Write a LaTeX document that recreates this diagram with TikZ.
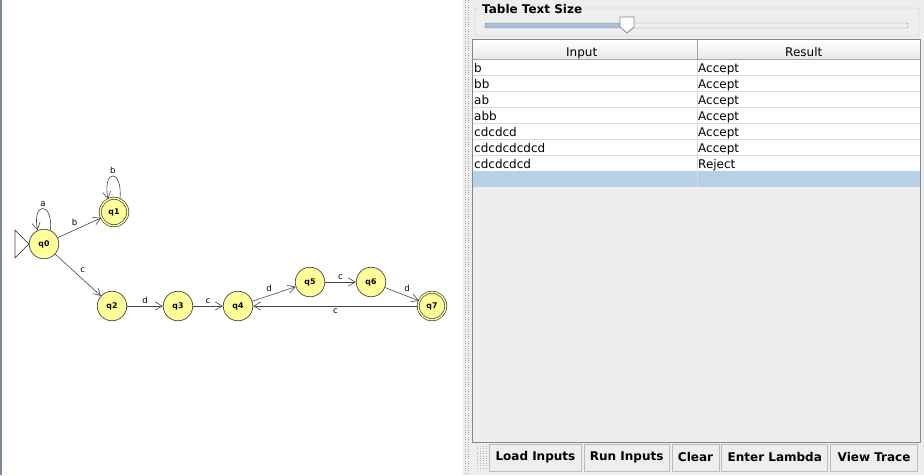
\documentclass[tikz,border=0pt]{standalone}
\usepackage{fontspec}
\setmainfont{DejaVu Sans}
\usepackage{xcolor}
\usepackage{tikz}
\usetikzlibrary{arrows.meta, positioning}
\definecolor{stateyellow}{HTML}{FFFF99}
\definecolor{edgegray}{HTML}{44464E}
\definecolor{panelgray}{HTML}{EEEEEE}
\definecolor{framegray}{HTML}{B8BCC4}
\definecolor{gridgray}{HTML}{D8DBE0}
\definecolor{selectblue}{HTML}{B8CFE5}
\definecolor{tableborder}{HTML}{7A8A99}
\definecolor{trackblue}{HTML}{A9BFD8}

\begin{document}
\begin{tikzpicture}[
    x=1pt, y=-1pt,
    every node/.style={font=\fontsize{12}{14}\selectfont},
    state/.style={
        circle,
        draw=edgegray,
        fill=stateyellow,
        line width=0.7pt,
        minimum size=29.5pt,
        inner sep=0pt,
        font=\fontsize{7.8}{9}\selectfont\bfseries
    },
    accept/.style={
        state,
        minimum size=27.5pt,
        double=stateyellow,
        double distance=1.4pt
    },
    trans/.style={
        -{Straight Barb[length=7pt, width=8pt]},
        line width=0.6pt,
        draw=edgegray,
        auto
    },
    edgelabel/.style={
        font=\fontsize{8.5}{10}\selectfont,
        inner sep=2pt
    },
    cell/.style={
        anchor=base west,
        inner sep=0pt
    },
    btn/.style={
        rectangle,
        draw=framegray,
        fill=panelgray,
        line width=0.8pt,
        minimum height=27pt,
        inner sep=0pt,
        font=\fontsize{12}{14}\selectfont\bfseries
    }
]
\useasboundingbox (0,0) rectangle (924,475);

% Panes
\fill[white] (0,0) rectangle (463,475);
\fill[panelgray] (463,0) rectangle (924,475);
\draw[tableborder, line width=1.5pt] (0.75,0) -- (0.75,475);
\foreach \gx in {465.5,468.5}
    \draw[gray!70, dotted] (\gx,0) -- (\gx,475);

% States
\node[state] (q0) at (44,244) {q0};
\node[accept] (q1) at (114,212) {q1};
\node[state] (q2) at (112,306) {q2};
\node[state] (q3) at (178,306) {q3};
\node[state] (q4) at (238,306) {q4};
\node[state] (q5) at (310,282) {q5};
\node[state] (q6) at (371,282) {q6};
\node[accept] (q7) at (432,306) {q7};

% Start marker
\draw[edgegray, line width=0.7pt] (q0.west) -- ++(-14,-14) -- ++(0,28) -- cycle;

% Transitions
\draw[trans] (q0.65) .. controls +(3,-29) and +(-6,-29) .. (q0.115) node[edgelabel, midway, above] {a};
\draw[trans] (q1.65) .. controls +(3,-31) and +(-6,-31) .. (q1.115) node[edgelabel, midway, above] {b};
\draw[trans] (q0) -- node[edgelabel] {b} (q1);
\draw[trans] (q0) -- node[edgelabel] {c} (q2);
\draw[trans] (q2) -- node[edgelabel] {d} (q3);
\draw[trans] (q3) -- node[edgelabel] {c} (q4);
\draw[trans] (q4) -- node[edgelabel] {d} (q5);
\draw[trans] (q5) -- node[edgelabel] {c} (q6);
\draw[trans] (q6) -- node[edgelabel] {d} (q7);
\draw[trans] (q7) -- node[edgelabel] {c} (q4);

% Slider box
\draw[framegray, rounded corners=2pt] (475,8) rectangle (919,36);
\node[cell, fill=panelgray, inner xsep=2pt, font=\fontsize{12}{14}\selectfont\bfseries] (title) at (480,13) {Table Text Size};
\fill[trackblue] (485,23) rectangle (627,28);
\draw[tableborder, rounded corners=1pt] (485,23) rectangle (908,28);
\draw[tableborder, fill=white, line width=0.8pt] (620,17) -- (634,17) -- (634,27) -- (627,33) -- (620,27) -- cycle;

% Table
\fill[white] (473,59) rectangle (920,171);
\shade[top color=white, bottom color=gray!18] (473,40) rectangle (920,59);
\fill[selectblue] (473,171) rectangle (920,187);
\foreach \i in {1,...,6}
    \draw[gridgray] (473,59+16*\i) -- (920,59+16*\i);
\draw[gridgray] (697,59) -- (697,187);
\draw[gray!70] (473,59) -- (920,59);
\draw[gray!70] (697,40) -- (697,59);
\draw[tableborder] (472.5,39.5) rectangle (920,442);

\node[cell] (input) at (566,56) {Input};
\node[cell] (result) at (785,56) {Result};
\foreach \inp/\res [count=\i] in {b/Accept, bb/Accept, ab/Accept, abb/Accept, cdcdcd/Accept, cdcdcdcdcd/Accept, cdcdcdcd/Reject}{
    \node[cell] (in\i) at (474,56+16*\i) {\inp};
    \node[cell] (res\i) at (698,56+16*\i) {\res};
}

% Buttons
\foreach \gx in {477,480,483,486}
    \draw[gray!60, dotted] (\gx,446) -- (\gx,470);
\node[btn, minimum width=92pt, anchor=west] (load) at (489,457.5) {Load Inputs};
\node[btn, minimum width=85pt, right=2pt of load] (run) {Run Inputs};
\node[btn, minimum width=47pt, right=2pt of run] (clear) {Clear};
\node[btn, minimum width=106pt, right=2pt of clear] (lambda) {Enter Lambda};
\node[btn, minimum width=87pt, right=2pt of lambda] (trace) {View Trace};

\end{tikzpicture}
\end{document}
